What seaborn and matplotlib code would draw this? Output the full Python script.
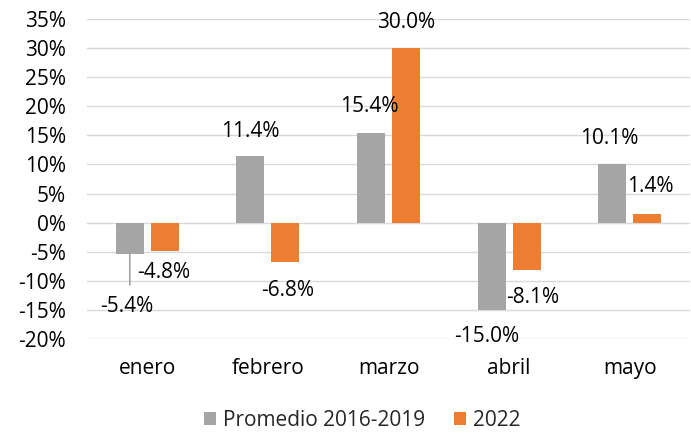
import matplotlib
matplotlib.use("Agg")
import matplotlib.pyplot as plt
import seaborn as sns
import pandas as pd

months = ["enero", "febrero", "marzo", "abril", "mayo"]
promedio = [-5.4, 11.4, 15.4, -15.0, 10.1]
v2022 = [-4.8, -6.8, 30.0, -8.1, 1.4]
series = ["Promedio 2016-2019", "2022"]
yticks = [-20, -15, -10, -5, 0, 5, 10, 15, 20, 25, 30, 35]

colors = ["#A5A5A5", "#ED7D31"]
FS = 15

df = pd.DataFrame({
    "mes": months * 2,
    "valor": promedio + v2022,
    "serie": [series[0]] * len(months) + [series[1]] * len(months),
})

sns.set_theme(style="white")
plt.rcParams["font.family"] = ["Open Sans", "DejaVu Sans"]

fig = plt.figure(figsize=(6.91, 4.34), dpi=100)
ax = fig.add_axes([87 / 691, 1 - 339 / 434, 603 / 691, 320 / 434])

sns.barplot(data=df, x="mes", y="valor", hue="serie", palette=colors,
            width=0.58, gap=0.2, ax=ax, saturation=1, legend=True, linewidth=0)

ax.set_ylim(-20, 35)
ax.set_xlim(-0.5, 4.5)
ax.set_yticks(yticks)
ax.set_yticklabels([f"{t}%" for t in yticks])
ax.grid(axis="y", color="#D9D9D9", linewidth=1)
ax.set_axisbelow(True)
for s in ax.spines.values():
    s.set_visible(False)
ax.set_xlabel("")
ax.set_ylabel("")
ax.tick_params(axis="both", labelsize=FS, colors="#000000", length=0)
ax.tick_params(axis="x", pad=14)
ax.tick_params(axis="y", pad=15)

# label offsets in pixels (dx, dy) per series
offsets = [
    [(-3, -52), (0, 25), (-2, 27), (-5, -27), (-3, 25)],
    [(-1, -22), (2, -28), (0, 26), (6, -28), (3, 28)],
]
for si, cont in enumerate(ax.containers):
    for bi, bar in enumerate(cont):
        x = bar.get_x() + bar.get_width() / 2
        val = [promedio, v2022][si][bi]
        dx, dy = offsets[si][bi]
        ax.annotate(f"{val:.1f}%", xy=(x, val), xytext=(dx, dy),
                    textcoords="offset pixels", ha="center", va="center",
                    fontsize=FS, color="#000000")

# leader line for enero promedio
b0 = ax.containers[0][0]
x0 = b0.get_x() + b0.get_width() / 2
ax.annotate("", xy=(x0, promedio[0]), xytext=(0, -31), textcoords="offset pixels",
            arrowprops=dict(arrowstyle="-", color="#A5A5A5", lw=1.2,
                            shrinkA=0, shrinkB=0))

ax.legend(loc="center", bbox_to_anchor=(362 / 691, 14 / 434), bbox_transform=fig.transFigure,
          ncol=2, frameon=False, fontsize=FS, handlelength=0.6, handleheight=0.6,
          handletextpad=0.3, columnspacing=1.4, borderaxespad=0, borderpad=0)

fig.savefig("out.png", dpi=100)
